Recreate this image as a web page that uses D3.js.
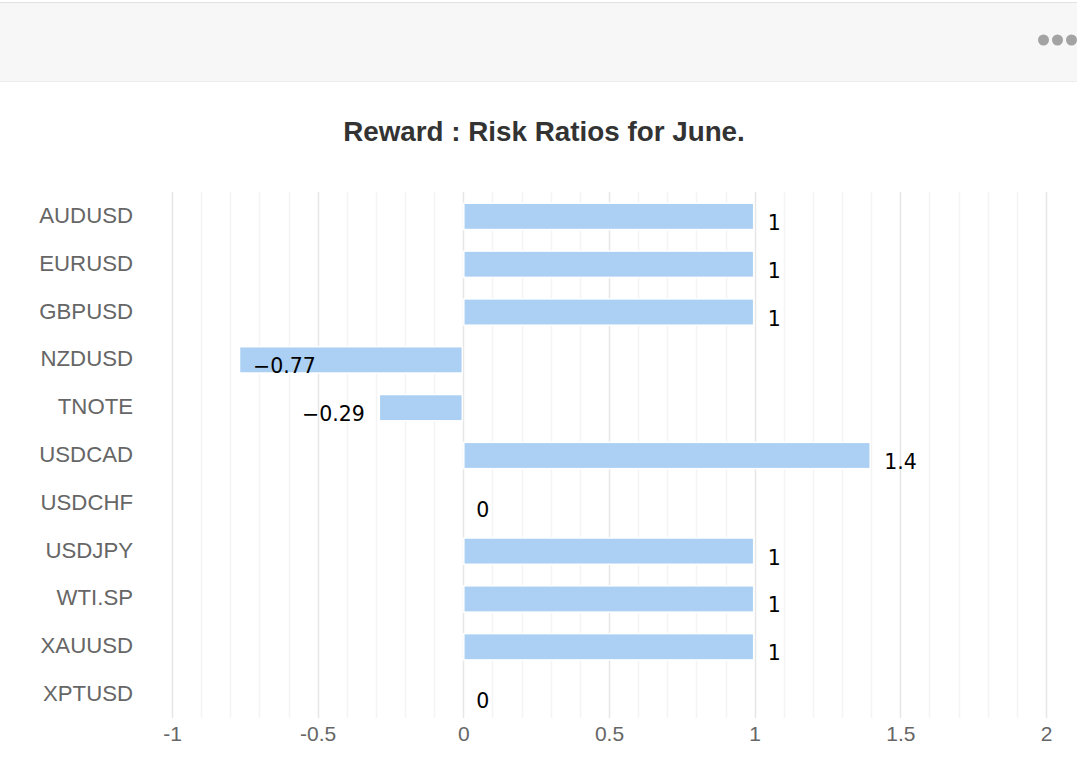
<!DOCTYPE html>
<meta charset="utf-8">
<head>
<style>
  body { margin: 0; background: #fff; }
</style>
</head>
<script src="https://cdn.jsdelivr.net/npm/d3@7"></script>
<body>
<script>

var categories = ["AUDUSD", "EURUSD", "GBPUSD", "NZDUSD", "TNOTE", "USDCAD",
                  "USDCHF", "USDJPY", "WTI.SP", "XAUUSD", "XPTUSD"];
var ratios = [1, 1, 1, -0.77, -0.29, 1.4, 0, 1, 1, 1, 0];
var tickValues = [-1, -0.5, 0, 0.5, 1, 1.5, 2];
var minorValues = d3.range(-10, 21).map(function(d) { return d / 10; });
var title = "Reward : Risk Ratios for June.";

var width = 1077;
var height = 778;

var svg = d3.select("body").append("svg")
    .attr("width", width)
    .attr("height", height);

// header strip with the menu dots
svg.append("rect")
  .attr("x", 0).attr("y", 2)
  .attr("width", width).attr("height", 79)
  .style("fill", "#f7f7f7");
svg.append("line")
  .attr("x1", 0).attr("x2", width).attr("y1", 2.5).attr("y2", 2.5)
  .style("stroke", "#e2e2e2");
svg.append("line")
  .attr("x1", 0).attr("x2", width).attr("y1", 81.5).attr("y2", 81.5)
  .style("stroke", "#ececec");
svg.selectAll(".dot")
  .data([0, 1, 2])
  .enter().append("circle")
  .attr("cx", function(d) { return 1043.5 + d * 14; })
  .attr("cy", 40)
  .attr("r", 5.5)
  .style("fill", "#a3a3a3");

svg.append("text")
  .attr("x", 544)
  .attr("y", 141)
  .attr("text-anchor", "middle")
  .style("font-family", "'Liberation Sans', Arial, sans-serif")
  .style("font-weight", "bold")
  .style("font-size", "27.8px")
  .style("fill", "#333")
  .text(title);

var plotLeft = 172, plotRight = 1046, plotTop = 192, plotBottom = 718;

var x = d3.scaleLinear().domain([-1, 2]).range([plotLeft, plotRight]);
var y = d3.scaleBand().domain(categories).range([plotTop, plotBottom])
  .paddingInner(0.45).paddingOuter(0.225);

// grid
svg.append("g").selectAll("line")
  .data(minorValues)
  .enter().append("line")
  .attr("x1", function(d) { return Math.round(x(d)) + 0.5; })
  .attr("x2", function(d) { return Math.round(x(d)) + 0.5; })
  .attr("y1", plotTop).attr("y2", plotBottom)
  .style("stroke", function(d) {
    return Math.abs(d * 2 - Math.round(d * 2)) < 1e-6 ? "#e6e6e6" : "#f4f4f4";
  })
  .style("stroke-width", 1.5);

var xAxis = d3.axisBottom(x).tickValues(tickValues).tickSize(0).tickPadding(0)
  .tickFormat(function(d) { return String(d); });
var ax = svg.append("g").attr("transform", "translate(0," + 741 + ")").call(xAxis);
ax.select(".domain").remove();
ax.selectAll("text")
  .attr("dy", 0)
  .style("font-family", "'Liberation Sans', Arial, sans-serif")
  .style("font-size", "21px")
  .style("fill", "#666");

var yAxis = d3.axisLeft(y).tickSize(0).tickPadding(0);
var ay = svg.append("g").attr("transform", "translate(133,0)").call(yAxis);
ay.select(".domain").remove();
ay.selectAll("text")
  .attr("dy", "0.36em")
  .attr("y", -1)
  .style("font-family", "'Liberation Sans', Arial, sans-serif")
  .style("font-size", "22.2px")
  .style("fill", "#666");

svg.append("g").selectAll("rect")
  .data(ratios)
  .enter().append("rect")
  .attr("x", function(d) { return Math.min(x(0), x(d)) + 0.5; })
  .attr("y", function(d, i) { return y(categories[i]) + 0.5; })
  .attr("width", function(d) { return Math.max(0, Math.abs(x(d) - x(0)) - 1.5); })
  .attr("height", y.bandwidth())
  .style("fill", "#abd0f3")
  .style("stroke", "#fff")
  .style("stroke-width", 1.5);

function fmt(v) { return v < 0 ? "\u2212" + Math.abs(v) : String(v); }

var labels = svg.append("g").selectAll("text")
  .data(ratios)
  .enter().append("text")
  .attr("y", function(d, i) { return y(categories[i]) + y.bandwidth() / 2 + 14; })
  .style("font-family", "'DejaVu Sans', sans-serif")
  .style("font-size", "20.5px")
  .style("fill", "#000")
  .text(function(d) { return fmt(d); });

// labels sit outside the bar end, flip inside when they would leave the plot
labels.each(function(d) {
  var t = d3.select(this);
  var w = this.getComputedTextLength();
  if (d >= 0) {
    t.attr("x", x(d) + 13).attr("text-anchor", "start");
  } else if (x(d) - 14 - w < plotLeft) {
    t.attr("x", x(d) + 14).attr("text-anchor", "start");
  } else {
    t.attr("x", x(d) - 14).attr("text-anchor", "end");
  }
});

</script>
</body>
